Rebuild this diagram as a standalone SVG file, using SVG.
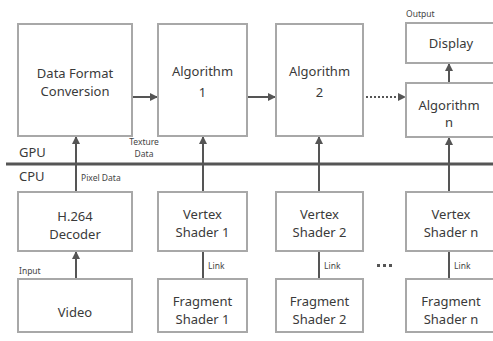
<svg xmlns="http://www.w3.org/2000/svg" width="493" height="341" viewBox="0 0 493 341">
<style>
.box{fill:#fff;stroke:#a8a8a8;stroke-width:2}
.t{font-family:"Noto Sans","Open Sans",sans-serif;font-size:13px;fill:#3a3a3a;text-anchor:middle}
.s{font-family:"Noto Sans","Open Sans",sans-serif;font-size:8.5px;fill:#444}
.g{font-family:"Noto Sans","Open Sans",sans-serif;font-size:13px;fill:#3a3a3a}
.c{stroke:#555;stroke-width:2;fill:none}
</style>
<defs>
<marker id="ah" markerWidth="8" markerHeight="8" refX="7" refY="4" orient="auto" markerUnits="userSpaceOnUse">
<path d="M0,0 L8,4 L0,8 z" fill="#555"/>
</marker>
</defs>
<rect width="493" height="341" fill="#fff"/>
<g id="bus">
<line x1="6" y1="164" x2="493" y2="164" stroke="#555" stroke-width="3"/>
<text class="g" x="19" y="157">GPU</text>
<text class="g" x="19" y="181">CPU</text>
</g>
<g id="connectors">
<line class="c" x1="132" y1="97" x2="157" y2="97" marker-end="url(#ah)"/>
<line class="c" x1="247" y1="97" x2="275" y2="97" marker-end="url(#ah)"/>
<line class="c" x1="366" y1="97" x2="405" y2="97" stroke-dasharray="2,2" marker-end="url(#ah)"/>
<line class="c" x1="449" y1="83" x2="449" y2="64" marker-end="url(#ah)"/>
<line class="c" x1="76" y1="192" x2="76" y2="137" marker-end="url(#ah)"/>
<line class="c" x1="203" y1="192" x2="203" y2="137" marker-end="url(#ah)"/>
<line class="c" x1="319" y1="192" x2="319" y2="137" marker-end="url(#ah)"/>
<line class="c" x1="449" y1="192" x2="449" y2="138" marker-end="url(#ah)"/>
<line class="c" x1="76" y1="279" x2="76" y2="252" marker-end="url(#ah)"/>
<line class="c" x1="203" y1="251" x2="203" y2="279"/>
<line class="c" x1="319" y1="251" x2="319" y2="279"/>
<line class="c" x1="449" y1="251" x2="449" y2="279"/>
<text class="s" x="144" y="145" text-anchor="middle">Texture</text>
<text class="s" x="144" y="157" text-anchor="middle">Data</text>
<text class="s" x="81" y="181">Pixel Data</text>
<text class="s" x="208" y="269">Link</text>
<text class="s" x="324" y="269">Link</text>
<text class="s" x="454" y="269">Link</text>
<rect x="377" y="264" width="3" height="3" fill="#555"/>
<rect x="383" y="264" width="3" height="3" fill="#555"/>
<rect x="389" y="264" width="3" height="3" fill="#555"/>
</g>
<g id="dfc"><rect class="box" x="18" y="24" width="114" height="112"/><text class="t" x="75" y="78">Data Format</text><text class="t" x="75" y="96">Conversion</text></g>
<g id="alg1"><rect class="box" x="158" y="24" width="89" height="112"/><text class="t" x="202.5" y="76">Algorithm</text><text class="t" x="202.5" y="97">1</text></g>
<g id="alg2"><rect class="box" x="276" y="24" width="87" height="112"/><text class="t" x="319.5" y="76">Algorithm</text><text class="t" x="319.5" y="97">2</text></g>
<g id="display"><text class="s" x="406" y="17">Output</text><rect class="box" x="406" y="23" width="95" height="40"/><text class="t" x="451" y="48">Display</text></g>
<g id="algn"><rect class="box" x="406" y="83" width="95" height="54"/><text class="t" x="449" y="110">Algorithm</text><text class="t" x="449" y="127">n</text></g>
<g id="decoder"><rect class="box" x="18" y="192" width="114" height="59"/><text class="t" x="75" y="221">H.264</text><text class="t" x="75" y="239">Decoder</text></g>
<g id="video"><text class="s" x="19" y="274">Input</text><rect class="box" x="18" y="279" width="114" height="53"/><text class="t" x="75" y="317">Video</text></g>
<g id="vs1"><rect class="box" x="158" y="192" width="89" height="59"/><text class="t" x="202.5" y="219">Vertex</text><text class="t" x="202.5" y="237">Shader 1</text></g>
<g id="fs1"><rect class="box" x="158" y="279" width="89" height="53"/><text class="t" x="202.5" y="306">Fragment</text><text class="t" x="202.5" y="324">Shader 1</text></g>
<g id="vs2"><rect class="box" x="276" y="192" width="87" height="59"/><text class="t" x="319.5" y="219">Vertex</text><text class="t" x="319.5" y="237">Shader 2</text></g>
<g id="fs2"><rect class="box" x="276" y="279" width="87" height="53"/><text class="t" x="319.5" y="306">Fragment</text><text class="t" x="319.5" y="324">Shader 2</text></g>
<g id="vsn"><rect class="box" x="406" y="192" width="95" height="59"/><text class="t" x="451" y="219">Vertex</text><text class="t" x="451" y="237">Shader n</text></g>
<g id="fsn"><rect class="box" x="406" y="279" width="95" height="53"/><text class="t" x="451" y="306">Fragment</text><text class="t" x="451" y="324">Shader n</text></g>
</svg>
